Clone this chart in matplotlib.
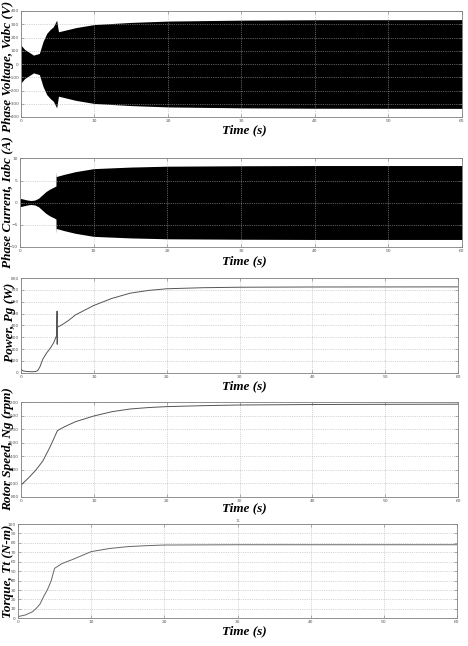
import matplotlib.pyplot as plt

# envelope of the three phase voltages (V)
v_t = [0, 0.5, 1.0, 1.7, 2.5, 3.0, 3.5, 4.0, 4.4, 4.85, 5.1, 6, 7.5, 10, 15, 20, 30, 40, 60]
v_env = [142, 110, 92, 67, 80, 170, 231, 262, 281, 331, 243, 255, 275, 298, 314, 324, 331, 334, 335]

# envelope of the three phase currents (A)
i_t = [0, 1, 1.5, 2, 2.5, 3, 3.5, 4, 4.6, 4.88, 4.9, 4.93, 6, 7.5, 10, 15, 20, 30, 40, 60]
i_env = [0.95, 0.56, 0.45, 0.55, 0.95, 1.7, 2.45, 3.0, 3.5, 3.75, 7.0, 5.9, 6.4, 7.0, 7.7, 8.05, 8.25, 8.35, 8.4, 8.4]

# generator power (W)
p_t = [0, 0.3, 0.8, 1.5, 2.0, 2.3, 2.6, 3.0, 3.5, 4.0, 4.5, 4.9, 4.95, 4.97, 5.0, 5.5, 6.5, 7.5, 10, 12.5, 15, 17.5, 20, 25, 30, 40, 60]
p_w = [28, 15, 10, 8, 10, 18, 50, 115, 165, 205, 255, 316, 520, 240, 385, 400, 440, 489, 568, 628, 672, 695, 709, 718, 722, 724, 725]

# rotor speed (rpm)
n_t = [0, 1, 2, 3, 4, 5, 6, 7.5, 10, 12.5, 15, 17.5, 20, 25, 30, 40, 50, 60]
n_rpm = [973, 1075, 1190, 1330, 1540, 1780, 1839, 1913, 1997, 2061, 2101, 2122, 2136, 2150, 2160, 2167, 2170, 2172]

# turbine torque (N-m)
q_t = [0, 1, 2, 2.5, 3, 3.5, 4, 4.5, 5, 6, 7.5, 10, 12.5, 15, 17.5, 20, 30, 40, 60]
q_nm = [1.8, 3.5, 7, 10.6, 15, 23, 30, 39, 53, 58, 62.5, 70.7, 74, 76, 77, 77.7, 78, 78, 78]

W, H = 468, 646
lab_font = dict(family="Liberation Serif", weight="bold", style="italic", size=9.5)

fig = plt.figure(figsize=(W / 100, H / 100), dpi=100)


def make_ax(left, right, top, bottom, ylim, yticks):
    ax = fig.add_axes([left / W, 1 - bottom / H, (right - left) / W, (bottom - top) / H])
    ax.set_xlim(0, 60)
    ax.set_ylim(*ylim)
    ax.set_xticks(range(0, 61, 10))
    ax.set_yticks(yticks)
    ax.grid(True, linestyle=":", color="#b0b0b0", linewidth=0.5)
    ax.tick_params(direction="in", top=True, right=True, length=2, width=0.4,
                   labelsize=3.2, labelcolor="#555555", color="#777777", pad=1.5)
    for s in ax.spines.values():
        s.set_color("#808080")
        s.set_linewidth(0.6)
    return ax


def labels(ylabel, yx, yy, xy):
    fig.text(yx / W, 1 - yy / H, ylabel, rotation=90, ha="center", va="center", **lab_font)
    fig.text(244 / W, 1 - xy / H, "Time (s)", ha="center", va="center", **lab_font)


ax1 = make_ax(21, 462, 11, 117, (-400, 400), range(-400, 401, 100))
ax1.fill_between(v_t, [-v for v in v_env], v_env, color="black", linewidth=0)
labels("Phase Voltage, Vabc (V)", 8, 66, 130)

ax2 = make_ax(20, 462, 158.5, 246.5, (-10, 10), range(-10, 11, 5))
ax2.fill_between(i_t, [-v for v in i_env], i_env, color="black", linewidth=0)
labels("Phase Current, Iabc (A)", 7.5, 202, 261)

ax3 = make_ax(21, 458, 278, 372.7, (0, 800), range(0, 801, 100))
ax3.plot(p_t, p_w, color="#555555", linewidth=0.7)
labels("Power, Pg (W)", 10, 322, 386)

ax4 = make_ax(21, 458, 402.3, 496.7, (800, 2200), range(800, 2201, 200))
ax4.plot(n_t, n_rpm, color="#555555", linewidth=0.7)
labels("Rotor Speed, Ng (rpm)", 8, 449, 508)

ax5 = make_ax(18, 457, 524, 618.3, (0, 100), range(0, 101, 10))
ax5.plot(q_t, q_nm, color="#666666", linewidth=0.7)
labels("Torque, Tt (N-m)", 8, 571, 631)
fig.text(238 / W, 1 - 521 / H, "11", fontsize=3, color="#777777", ha="center", va="center")

fig.savefig("out.png", dpi=100)
